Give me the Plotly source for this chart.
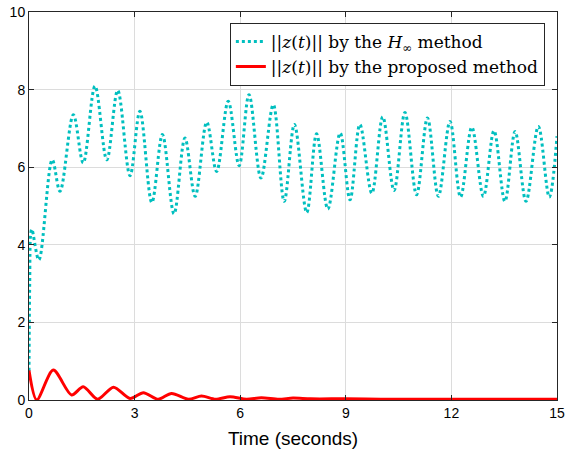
import plotly.graph_objects as go

# ||z(t)|| by the H-infinity method (extrema)
t_hinf = [0, 0.02, 0.05, 0.08, 0.28, 0.66, 0.88, 1.26, 1.54, 1.875, 2.21, 2.52, 2.87, 3.15,
          3.49, 3.79, 4.12, 4.43, 4.72, 5.05, 5.33, 5.66, 5.97, 6.25, 6.59, 6.94, 7.25, 7.54,
          7.89, 8.17, 8.49, 8.84, 9.12, 9.40, 9.74, 10.05, 10.37, 10.68, 11.01, 11.32, 11.63,
          11.96, 12.26, 12.58, 12.91, 13.21, 13.52, 13.81, 14.12, 14.47, 14.78, 15.0]
z_hinf = [0.75, 3.0, 4.3, 4.4, 3.61, 6.19, 5.38, 7.35, 6.11, 8.09, 6.19, 7.98, 5.78, 7.44,
          5.09, 6.84, 4.80, 6.75, 5.25, 7.16, 5.89, 7.70, 6.04, 7.87, 5.72, 7.61, 5.12, 7.10,
          4.83, 6.86, 4.92, 6.88, 5.16, 7.10, 5.33, 7.30, 5.40, 7.41, 5.29, 7.27, 5.25,
          7.18, 5.23, 7.03, 5.25, 6.94, 5.12, 6.92, 5.12, 7.05, 5.23, 6.80]

# ||z(t)|| by the proposed method
t_prop = [0, 0.22, 0.69, 1.21, 1.54, 1.95, 2.4, 2.87, 3.25, 3.67, 4.05, 4.53, 4.9, 5.3,
          5.71, 6.18, 6.6, 7.1, 7.5, 8.0, 9.0, 10.0, 12.0, 15.0]
z_prop = [0.76, 0.0, 0.77, 0.13, 0.34, 0.02, 0.33, 0.04, 0.19, 0.02, 0.17, 0.02, 0.10, 0.02,
          0.085, 0.02, 0.06, 0.02, 0.05, 0.03, 0.03, 0.02, 0.02, 0.02]

x_ticks = [0, 3, 6, 9, 12, 15]
y_ticks = [0, 2, 4, 6, 8, 10]
name_hinf = "||<i>z</i>(<i>t</i>)|| by the <i>H</i><sub>∞</sub> method"
name_prop = "||<i>z</i>(<i>t</i>)|| by the proposed method"

fig = go.Figure()
fig.add_trace(go.Scatter(x=t_hinf, y=z_hinf, mode="lines", name=name_hinf,
                         line=dict(color="rgb(0,191,191)", width=3, dash="dot",
                                   shape="spline", smoothing=1.0)))
fig.add_trace(go.Scatter(x=t_prop, y=z_prop, mode="lines", name=name_prop,
                         line=dict(color="rgb(255,0,0)", width=3,
                                   shape="spline", smoothing=0.8)))

axis_common = dict(showline=True, linecolor="rgb(38,38,38)", linewidth=1, mirror="ticks",
                   ticks="inside", ticklen=5, tickcolor="rgb(38,38,38)",
                   showgrid=True, gridcolor="rgb(220,220,220)", gridwidth=1,
                   zeroline=False, automargin=False,
                   tickfont=dict(family="Liberation Sans, Arial", size=14, color="black"))

fig.update_layout(
    width=565, height=458,
    margin=dict(l=29, r=8, t=12, b=58),
    paper_bgcolor="white", plot_bgcolor="white",
    xaxis=dict(range=[0, 15], tickvals=x_ticks,
               title=dict(text="Time (seconds)", standoff=11,
                          font=dict(family="Liberation Sans, Arial", size=19, color="black")),
               **axis_common),
    yaxis=dict(range=[0, 10], tickvals=y_ticks, **axis_common),
    legend=dict(x=0.977, y=0.972, xanchor="right", yanchor="top",
                bgcolor="white", bordercolor="rgb(38,38,38)", borderwidth=1,
                itemwidth=30,
                font=dict(family="DejaVu Serif, Liberation Serif, serif", size=17, color="black"),
                tracegroupgap=0),
    showlegend=True,
)

fig.write_html("out.html")
